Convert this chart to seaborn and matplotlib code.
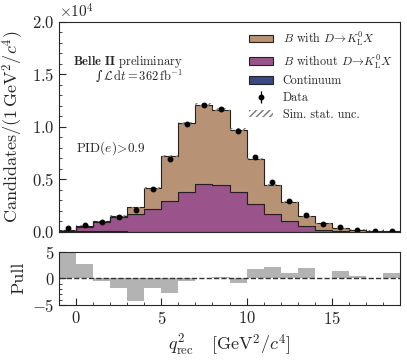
import numpy as np
import pandas as pd
import matplotlib
matplotlib.use("Agg")
import matplotlib.pyplot as plt
from matplotlib.patches import Patch
from matplotlib.ticker import AutoMinorLocator, MultipleLocator
import seaborn as sns

## binning in q2_rec, 1 GeV^2/c^4 wide
edges = np.arange(-1, 20, 1)
centers = edges[:-1] + 0.5

## stacked simulation (candidates per bin)
continuum = [20, 40, 40, 35, 30, 25, 10, 5, 5, 5, 0, 0, 0, 0, 0, 0, 0, 0, 0, 0]
b_without = [30, 420, 880, 1380, 1670, 2120, 2950, 3820, 4530, 4430,
             3760, 2650, 1720, 1050, 540, 200, 80, 30, 20, 10]
b_with = [100, 110, 100, 90, 630, 2000, 4270, 6530, 7570, 7190,
          5950, 4290, 2770, 1760, 930, 600, 270, 160, 80, 70]

## data points
data_y = [320, 640, 960, 1370, 2040, 4050, 6910, 10290, 12040, 11690,
          9620, 7170, 4710, 2930, 1600, 770, 420, 200, 100, 90]

## pull per bin
pull = [5.3, 2.6, -0.6, -1.9, -4.3, -1.9, -2.7, -0.5, 0.0, 0.3,
        -0.8, 1.7, 2.1, 0.9, 1.9, 0.0, 1.3, 0.4, 0.0, 1.0]

labels = [r"$B$ with $D\!\rightarrow\!K_{\rm L}^0X$",
          r"$B$ without $D\!\rightarrow\!K_{\rm L}^0X$",
          "Continuum"]
colors = ["#b89274", "#9b548b", "#3b4a7e"]

sns.set_style("ticks")
plt.rcParams["font.family"] = "serif"
plt.rcParams["font.serif"] = ["cmr10", "DejaVu Serif"]
plt.rcParams["mathtext.fontset"] = "cm"
plt.rcParams["axes.formatter.use_mathtext"] = True
plt.rcParams["axes.unicode_minus"] = True

## long table for seaborn stacking
df = pd.DataFrame({
    "q2": np.tile(centers, 3),
    "n": np.concatenate([b_with, b_without, continuum]),
    "comp": np.repeat(labels, len(centers)),
})

fig = plt.figure(figsize=(4.07, 3.6), dpi=100)
ax = fig.add_axes([0.145, 0.356, 0.838, 0.583])
axp = fig.add_axes([0.145, 0.153, 0.838, 0.148])

sns.histplot(data=df, x="q2", weights="n", hue="comp", hue_order=labels,
             multiple="stack", binwidth=1, binrange=(-1, 19), element="step",
             palette=colors, alpha=1, edgecolor="#222222", linewidth=0.8,
             legend=False, ax=ax)

total = np.array(b_with) + np.array(b_without) + np.array(continuum)
unc = np.sqrt(total) * 1.2 + 20
tot_s = np.append(total, total[-1])
unc_s = np.append(unc, unc[-1])
ax.fill_between(edges, tot_s - unc_s, tot_s + unc_s, step="post",
                facecolor="none", edgecolor="#888888", hatch="/////", linewidth=0)

err = ax.errorbar(centers, data_y, yerr=np.sqrt(data_y), fmt="o", color="black",
                  ms=3.2, elinewidth=0.9, capsize=0)

ax.set_xlim(-1, 19)
ax.set_ylim(0, 20000)
ax.ticklabel_format(axis="y", style="sci", scilimits=(4, 4))
ax.yaxis.set_major_locator(MultipleLocator(5000))
ax.yaxis.set_minor_locator(AutoMinorLocator(5))
ax.xaxis.set_major_locator(MultipleLocator(5))
ax.xaxis.set_minor_locator(AutoMinorLocator(5))
ax.tick_params(axis="x", labelbottom=False)
ax.tick_params(which="both", direction="in", labelsize=12)
ax.tick_params(which="major", length=5)
ax.tick_params(which="minor", length=2.5)
ax.yaxis.get_offset_text().set_fontsize(11)
ax.set_xlabel("")
ax.set_ylabel(r"Candidates/(1$\,$GeV$^2$/$c^4$)", fontsize=13)

ax.text(0.042, 0.81, r"$\mathbf{Belle\ II}$ preliminary", transform=ax.transAxes,
        fontsize=9, va="center")
ax.text(0.108, 0.738, "\u222b", transform=ax.transAxes, fontsize=9, va="center",
        family="DejaVu Serif")
ax.text(0.128, 0.738, r"$\mathcal{L}\,\mathrm{d}t=362\,\mathrm{fb}^{-1}$",
        transform=ax.transAxes, fontsize=9, va="center")
ax.text(0.05, 0.40, r"PID$(e)\!>\!0.9$", transform=ax.transAxes, fontsize=9.5,
        va="center")

handles = [Patch(facecolor=c, edgecolor="#222222", linewidth=0.8) for c in colors]
handles.append(err)
handles.append(Patch(facecolor="none", edgecolor="#777777", hatch="/////", linewidth=0))
leg_labels = labels + ["Data", "Sim. stat. unc."]
ax.legend(handles, leg_labels, loc="upper right", frameon=False, fontsize=8.7,
          handlelength=2.0, handleheight=0.6, labelspacing=0.38, handletextpad=0.8,
          borderaxespad=0.25, bbox_to_anchor=(1.0, 1.0))

## pull panel
sns.histplot(x=centers, weights=pull, binwidth=1, binrange=(-1, 19), element="bars",
             color="#b3b3b3", alpha=1, linewidth=0, ax=axp)
axp.axhline(0, color="#333333", ls="--", lw=1)
axp.set_xlim(-1, 19)
axp.set_ylim(-5, 5)
axp.yaxis.set_major_locator(MultipleLocator(5))
axp.yaxis.set_minor_locator(AutoMinorLocator(5))
axp.xaxis.set_major_locator(MultipleLocator(5))
axp.xaxis.set_minor_locator(AutoMinorLocator(5))
axp.tick_params(which="both", direction="in", labelsize=12)
axp.tick_params(which="major", length=5)
axp.tick_params(which="minor", length=2.5)
axp.set_ylabel("Pull", fontsize=13)
axp.set_xlabel(r"$q^2_{\rm rec}$   [GeV$^2$/$c^4$]", fontsize=13)
fig.align_ylabels([ax, axp])

fig.savefig("out.png", dpi=100)
